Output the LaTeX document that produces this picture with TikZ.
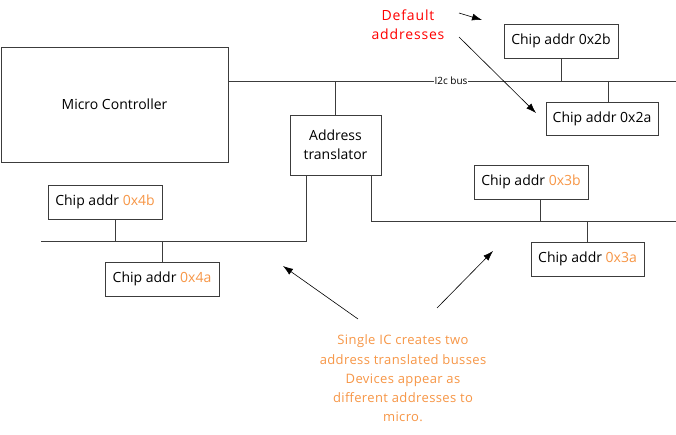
\documentclass[tikz,border=0pt]{standalone}
\usepackage{fontspec}
\setmainfont{Open Sans}
\newfontfamily\redfont[LetterSpace=6]{Open Sans}
\newfontfamily\orfont[LetterSpace=3]{Open Sans}
\usetikzlibrary{arrows.meta}
\definecolor{orng}{RGB}{247,150,70}
\definecolor{linec}{RGB}{60,60,60}
\begin{document}
\begin{tikzpicture}[x=1pt,y=-1pt,
  box/.style={draw=linec, line width=0.9pt, inner sep=0pt, font=\fontsize{14}{19}\selectfont},
  wire/.style={draw=linec, line width=0.9pt},
  arr/.style={draw=black, line width=0.6pt, -{Latex[length=10pt,width=7pt]}},
  note/.style={align=center, inner sep=0pt}]
\useasboundingbox (0,0) rectangle (676,435);
\fill[white] (0,0) rectangle (676,435);
% boxes
\node[box, minimum width=227pt, minimum height=115pt] (mc) at (114.5,104.5) {Micro Controller};
\node[box, minimum width=91pt, minimum height=60pt, align=center] (tr) at (335.5,145) {Address\\translator};
\node[box, minimum width=114pt, minimum height=34pt] (c2b) at (561,41) {Chip addr 0x2b};
\node[box, minimum width=112pt, minimum height=33pt] (c2a) at (602,118.5) {Chip addr 0x2a};
\node[box, minimum width=114pt, minimum height=34pt] (c3b) at (531,182) {Chip addr \textcolor{orng}{0x3b}};
\node[box, minimum width=113pt, minimum height=34pt] (c3a) at (587.5,259) {Chip addr \textcolor{orng}{0x3a}};
\node[box, minimum width=114pt, minimum height=34pt] (c4b) at (105,202) {Chip addr \textcolor{orng}{0x4b}};
\node[box, minimum width=114pt, minimum height=34pt] (c4a) at (162,279) {Chip addr \textcolor{orng}{0x4a}};
% main i2c bus
\coordinate (busR) at (676,81);
\draw[wire] (mc.east |- busR) -- (busR);
\draw[wire] (tr.north) -- (tr.north |- busR);
\draw[wire] (c2b.south) -- (c2b.south |- busR);
\coordinate (v2a) at (608,81);
\draw[wire] (v2a) -- (v2a |- c2a.north);
\node[inner sep=0.5pt, fill=white, font=\fontsize{10}{11}\selectfont] (lbl) at (451,81) {I2c bus};
% left translated bus
\coordinate (lbR) at (306,241);
\coordinate (lbL) at (41,241);
\draw[wire] (tr.south -| lbR) -- (lbR) -- (lbL);
\coordinate (v4b) at (115,241);
\draw[wire] (c4b.south -| v4b) -- (v4b);
\draw[wire] (c4a.north) -- (c4a.north |- lbL);
% right translated bus
\coordinate (rbL) at (371,221);
\coordinate (rbR) at (676,221);
\draw[wire] (tr.south -| rbL) -- (rbL) -- (rbR);
\coordinate (v3b) at (540,221);
\draw[wire] (c3b.south -| v3b) -- (v3b);
\draw[wire] (c3a.north) -- (c3a.north |- rbR);
% default addresses note
\node[note, text=red, font=\redfont\fontsize{14}{19}\selectfont] (def) at (408,24.5) {Default\\addresses};
\coordinate (a1s) at (459,13);
\coordinate (a1e) at (482,20);
\coordinate (a2s) at (459,37);
\coordinate (a2e) at (536,113);
\draw[arr] (a1s) -- (a1e);
\draw[arr] (a2s) -- (a2e);
% explanation note
\node[note, text=orng, font=\orfont\fontsize{13}{19.2}\selectfont] (expl) at (403,378.5) {Single IC creates two\\address translated busses\\Devices appear as\\different addresses to\\micro.};
\coordinate (a3s) at (358,319);
\coordinate (a3e) at (283,266);
\coordinate (a4s) at (437,308);
\coordinate (a4e) at (493,251);
\draw[arr] (a3s) -- (a3e);
\draw[arr] (a4s) -- (a4e);
\end{tikzpicture}
\end{document}
